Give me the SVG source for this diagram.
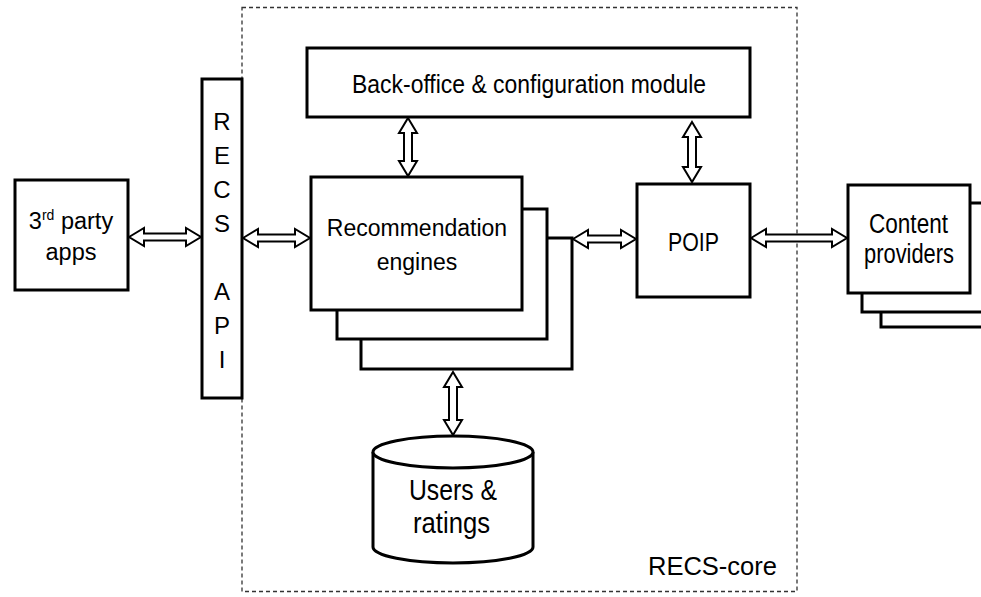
<svg xmlns="http://www.w3.org/2000/svg" width="981" height="597" viewBox="0 0 981 597">
  <style>
    .box { fill: #fff; stroke: #000; stroke-width: 3; }
    .core { fill: none; stroke: #333; stroke-width: 1.3; stroke-dasharray: 4 3; }
    .dbl { fill: #fff; stroke: #000; stroke-width: 2; stroke-linejoin: miter; }
    .lbl { font-family: "Liberation Sans", Arial, sans-serif; fill: #000; }
    .mid { text-anchor: middle; }
  </style>

  <!-- RECS-core boundary -->
  <g id="recs-core">
    <rect class="core" x="242" y="7.5" width="555" height="584"/>
    <text class="lbl" x="648" y="575" font-size="26" textLength="129" lengthAdjust="spacingAndGlyphs">RECS-core</text>
  </g>

  <!-- external client applications -->
  <g id="third-party-apps">
    <rect class="box" x="15" y="180" width="113" height="110"/>
    <text class="lbl mid" x="71" y="229" font-size="23.5">3<tspan font-size="14" dy="-9">rd</tspan><tspan dy="9"> party</tspan></text>
    <text class="lbl mid" x="71" y="260" font-size="23.5">apps</text>
  </g>

  <!-- public API column -->
  <g id="recs-api">
    <rect class="box" x="202" y="79" width="40" height="319"/>
    <g class="lbl mid" font-size="24">
      <text x="222" y="130">R</text>
      <text x="222" y="164">E</text>
      <text x="222" y="198">C</text>
      <text x="222" y="232">S</text>
      <text x="222" y="300">A</text>
      <text x="222" y="334">P</text>
      <text x="222" y="368">I</text>
    </g>
  </g>

  <g id="back-office">
    <rect class="box" x="307" y="48" width="443" height="69"/>
    <text class="lbl" x="352" y="93" font-size="25" textLength="354" lengthAdjust="spacingAndGlyphs">Back-office &amp; configuration module</text>
  </g>

  <!-- stacked engine instances, back to front -->
  <g id="recommendation-engines">
    <rect class="box" x="361" y="238" width="211" height="131"/>
    <rect class="box" x="337" y="209" width="210" height="130"/>
    <rect class="box" x="311" y="177" width="211" height="133"/>
    <text class="lbl mid" x="417" y="236" font-size="23">Recommendation</text>
    <text class="lbl mid" x="417" y="270" font-size="23">engines</text>
  </g>

  <g id="poip">
    <rect class="box" x="637" y="184" width="113" height="113"/>
    <text class="lbl" x="668" y="251" font-size="25" textLength="51" lengthAdjust="spacingAndGlyphs">POIP</text>
  </g>

  <g id="content-providers">
    <rect class="box" x="881" y="222" width="110" height="105"/>
    <rect class="box" x="862" y="203" width="129" height="109"/>
    <rect class="box" x="848" y="185" width="122" height="108"/>
    <text class="lbl" x="869" y="233" font-size="27" textLength="79" lengthAdjust="spacingAndGlyphs">Content</text>
    <text class="lbl" x="864" y="263" font-size="27" textLength="90" lengthAdjust="spacingAndGlyphs">providers</text>
  </g>

  <g id="users-ratings">
    <path class="box" d="M373,452 L373,547 A80,16 0 0 0 533,547 L533,452"/>
    <ellipse class="box" cx="453" cy="452" rx="80" ry="16"/>
    <text class="lbl" x="409" y="500" font-size="30" textLength="88" lengthAdjust="spacingAndGlyphs">Users &amp;</text>
    <text class="lbl" x="413" y="533" font-size="30" textLength="77" lengthAdjust="spacingAndGlyphs">ratings</text>
  </g>

  <!-- bidirectional hollow arrows -->
  <g id="connectors">
    <polygon class="dbl" points="129,237 144,228 144,233.5 186,233.5 186,228 201,237 186,246 186,240.5 144,240.5 144,246"/>
    <polygon class="dbl" points="243,238 258,229 258,234.5 295,234.5 295,229 310,238 295,247 295,241.5 258,241.5 258,247"/>
    <polygon class="dbl" points="573,239 588,230 588,235.5 621,235.5 621,230 636,239 621,248 621,242.5 588,242.5 588,248"/>
    <polygon class="dbl" points="751,238 766,229 766,234.5 832,234.5 832,229 847,238 832,247 832,241.5 766,241.5 766,247"/>
    <polygon class="dbl" points="408,118 417,133 412,133 412,161 417,161 408,176 399,161 404,161 404,133 399,133"/>
    <polygon class="dbl" points="692,122 701,137 696,137 696,167 701,167 692,182 683,167 688,167 688,137 683,137"/>
    <polygon class="dbl" points="453,372 462,387 457,387 457,420 462,420 453,435 444,420 449,420 449,387 444,387"/>
  </g>
</svg>
